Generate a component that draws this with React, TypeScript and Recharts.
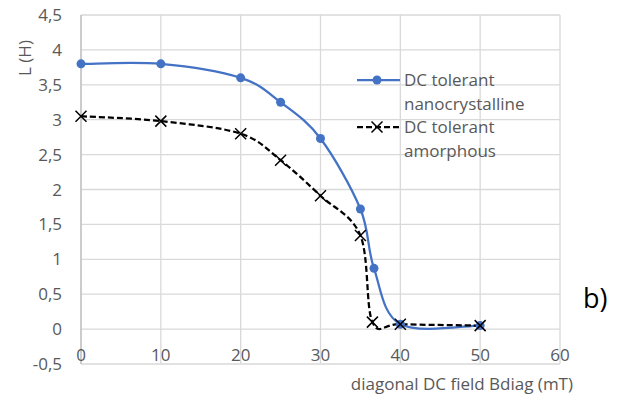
import React from 'react';
import { LineChart, Line, XAxis, YAxis, CartesianGrid, Legend, Label } from 'recharts';

// field (mT) and inductance (H)
const nanoField = [0, 10, 20, 25, 30, 35, 36.7, 40, 50];
const nanoL = [3.8, 3.8, 3.6, 3.25, 2.73, 1.72, 0.87, 0.07, 0.05];
const amorField = [0, 10, 20, 25, 30, 35, 36.5, 40, 50];
const amorL = [3.05, 2.98, 2.8, 2.42, 1.91, 1.34, 0.1, 0.07, 0.05];

const xTicks = [0, 10, 20, 30, 40, 50, 60];
const yTicks = [-0.5, 0, 0.5, 1, 1.5, 2, 2.5, 3, 3.5, 4, 4.5];

const nanoData = nanoField.map((x, i) => ({ x, y: nanoL[i] }));
const amorData = amorField.map((x, i) => ({ x, y: amorL[i] }));

const BLUE = '#4472C4';
const GREY = '#595959';
const FONT = "'Open Sans', sans-serif";
const FS = 17;

// Excel-style smoothed line (Catmull-Rom through the points)
const smoothCurve: any = (context: any) => {
  let pts: number[][] = [];
  return {
    areaStart() {},
    areaEnd() {},
    lineStart() {
      pts = [];
    },
    point(x: number, y: number) {
      pts.push([+x, +y]);
    },
    lineEnd() {
      const n = pts.length;
      if (!n) return;
      context.moveTo(pts[0][0], pts[0][1]);
      for (let i = 0; i < n - 1; i++) {
        const p0 = pts[Math.max(i - 1, 0)];
        const p1 = pts[i];
        const p2 = pts[i + 1];
        const p3 = pts[Math.min(i + 2, n - 1)];
        context.bezierCurveTo(
          p1[0] + (p2[0] - p0[0]) / 6,
          p1[1] + (p2[1] - p0[1]) / 6,
          p2[0] - (p3[0] - p1[0]) / 6,
          p2[1] - (p3[1] - p1[1]) / 6,
          p2[0],
          p2[1]
        );
      }
    },
  };
};

const Cross = (props: any) => {
  const { cx, cy } = props;
  if (cx == null || cy == null) return null;
  const s = 5.5;
  return (
    <path
      d={`M${cx - s},${cy - s}L${cx + s},${cy + s}M${cx + s},${cy - s}L${cx - s},${cy + s}`}
      stroke="#000"
      strokeWidth={1.5}
      fill="none"
    />
  );
};

const fmt = (v: number) => String(v).replace('.', ',');

const XTick = (props: any) => {
  const { x, y, payload } = props;
  return (
    <text x={x} y={y - 3.5} textAnchor="middle" fill={GREY} fontSize={FS} fontFamily={FONT}>
      {payload.value}
    </text>
  );
};

const LegendBox = () => {
  const entries = [
    { lines: ['DC tolerant', 'nanocrystalline'], kind: 'nano' },
    { lines: ['DC tolerant', 'amorphous'], kind: 'amor' },
  ];
  return (
    <div style={{ fontFamily: FONT, fontSize: FS, color: GREY, lineHeight: '23.5px' }}>
      {entries.map((e) => (
        <div key={e.kind} style={{ display: 'flex', alignItems: 'flex-start' }}>
          <svg width={47} height={23.5} style={{ display: 'block' }}>
            {e.kind === 'nano' ? (
              <g>
                <line x1={0} y1={12} x2={43} y2={12} stroke={BLUE} strokeWidth={2.25} />
                <circle cx={20} cy={12} r={4.5} fill={BLUE} />
              </g>
            ) : (
              <g>
                <line x1={0} y1={12} x2={43} y2={12} stroke="#000" strokeWidth={2.25} strokeDasharray="6 3" />
                <Cross cx={20} cy={12} />
              </g>
            )}
          </svg>
          <div>
            {e.lines.map((l) => (
              <div key={l}>{l}</div>
            ))}
          </div>
        </div>
      ))}
    </div>
  );
};

export default function App() {
  return (
    <div style={{ position: 'absolute', left: 0, top: 0, width: 628, height: 401, background: '#fff', fontFamily: FONT }}>
      <LineChart width={628} height={401} margin={{ top: 15, right: 68, bottom: 0, left: 0 }}>
        <CartesianGrid stroke="#d9d9d9" strokeWidth={1.3} />
        <XAxis
          type="number"
          dataKey="x"
          domain={[0, 60]}
          ticks={xTicks}
          allowDuplicatedCategory={false}
          axisLine={false}
          tickLine={false}
          tickSize={0}
          tickMargin={0}
          height={37}
          tick={<XTick />}
        >
          <Label
            content={(p: any) => {
              const vb = p.viewBox || {};
              return (
                <text
                  x={vb.x + vb.width + 13}
                  y={vb.y + 26}
                  textAnchor="end"
                  fill={GREY}
                  fontSize={FS}
                  fontFamily={FONT}
                >
                  diagonal DC field Bdiag (mT)
                </text>
              );
            }}
          />
        </XAxis>
        <YAxis
          type="number"
          domain={[-0.5, 4.5]}
          ticks={yTicks}
          width={81}
          axisLine={{ stroke: '#bfbfbf', strokeWidth: 1.3 }}
          tickLine={false}
          tickSize={0}
          tickMargin={19}
          tickFormatter={fmt}
          tick={{ fill: GREY, fontSize: FS, fontFamily: FONT }}
        >
          <Label
            content={(p: any) => {
              const vb = p.viewBox || {};
              const cx = vb.x + 31;
              const cy = vb.y + 43;
              return (
                <text
                  x={cx}
                  y={cy}
                  transform={`rotate(-90, ${cx}, ${cy})`}
                  textAnchor="middle"
                  fill={GREY}
                  fontSize={FS}
                  fontFamily={FONT}
                >
                  L (H)
                </text>
              );
            }}
          />
        </YAxis>
        <Legend
          layout="vertical"
          align="center"
          verticalAlign="middle"
          content={<LegendBox />}
          wrapperStyle={{ left: 357, top: 68, width: 'auto', height: 'auto' }}
        />
        <Line
          data={nanoData}
          dataKey="y"
          name="DC tolerant nanocrystalline"
          type={smoothCurve}
          stroke={BLUE}
          strokeWidth={2.25}
          dot={{ r: 4.5, fill: BLUE, stroke: 'none' }}
          activeDot={false}
          isAnimationActive={false}
        />
        <Line
          data={amorData}
          dataKey="y"
          name="DC tolerant amorphous"
          type={smoothCurve}
          stroke="#000"
          strokeWidth={2.25}
          strokeDasharray="6 3"
          dot={<Cross />}
          activeDot={false}
          isAnimationActive={false}
        />
      </LineChart>
      <div style={{ position: 'absolute', left: 583, top: 284, fontSize: 27, color: '#000', fontFamily: FONT, lineHeight: 1 }}>
        b)
      </div>
    </div>
  );
}
